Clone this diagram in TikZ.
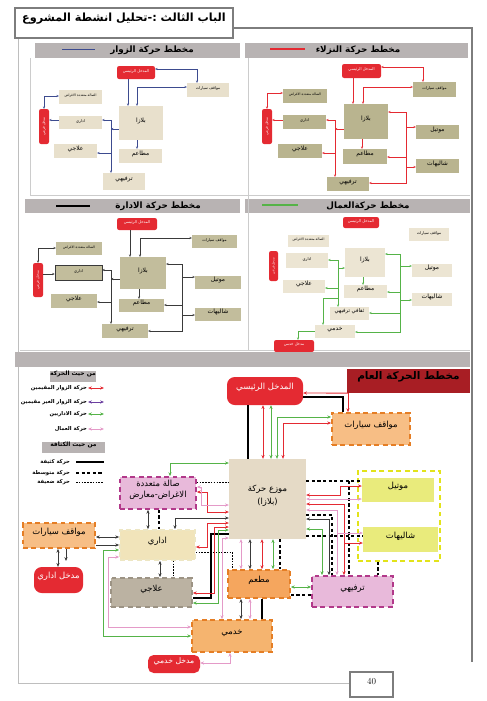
\documentclass[tikz,border=0pt]{standalone}
\usepackage{fontspec}
\usepackage{xcolor}
\usepackage{tikz}
\usetikzlibrary{arrows.meta,fit}
\newfontfamily\arabicfont[Script=Arabic]{DejaVu Sans}
\TeXXeTstate=1
\newcommand{\arb}[1]{{\arabicfont\beginR #1\endR}}

\definecolor{zred}{HTML}{E42A32}
\definecolor{zgreen}{HTML}{55B348}
\definecolor{zpink}{HTML}{E49AC8}
\definecolor{zdark}{HTML}{3A3A3A}
\definecolor{zpurple}{HTML}{6B3FA0}
\definecolor{zblue}{HTML}{3D4B8F}
\definecolor{orfill}{HTML}{F7BE85}
\definecolor{orline}{HTML}{E57E25}
\definecolor{restfill}{HTML}{F5A65E}
\definecolor{servfill}{HTML}{F5B46F}
\definecolor{pinkfill}{HTML}{E8B9DA}
\definecolor{magline}{HTML}{B2398A}
\definecolor{yelfill}{HTML}{E9EB7C}
\definecolor{yelline}{HTML}{E2E31A}
\definecolor{admfill}{HTML}{F1E4BA}
\definecolor{admline}{HTML}{EDE6C3}
\definecolor{clinfill}{HTML}{BBB2A2}
\definecolor{clinline}{HTML}{9C9384}
\definecolor{plazafill}{HTML}{E5DAC6}
\definecolor{subA}{HTML}{E8E0CC}
\definecolor{subB}{HTML}{B9B48F}
\definecolor{subC}{HTML}{C2BD9C}
\definecolor{subD}{HTML}{ECE5D3}
\definecolor{hdr}{HTML}{B8B3B3}
\definecolor{framegray}{HTML}{7D7D7D}
\definecolor{titlered}{HTML}{A81E24}

\tikzset{
  sbox/.style={fill=#1, inner sep=0pt, font=\fontsize{5.5}{6}\selectfont},
  sent/.style={fill=zred, text=white, rounded corners=3pt, inner sep=0pt, font=\fontsize{5.5}{6}\selectfont},
  big/.style={font=\fontsize{8.5}{9}\selectfont},
  sflow/.style={draw=#1, line width=0.7pt, >={Stealth[length=3.5pt,width=3pt]}},
  hdrtext/.style={font=\bfseries\fontsize{12.5}{14}\selectfont},
  mbox/.style 2 args={fill=#1, draw=#2, line width=2.4pt, dash pattern=on 7pt off 5pt, inner sep=0pt, font=\fontsize{12}{16}\selectfont},
  ment/.style={fill=zred, text=white, rounded corners=11pt, inner sep=0pt, font=\fontsize{12}{14}\selectfont},
  mflow/.style={draw=#1, line width=1.2pt},
  heavy/.style={draw=black, line width=2.2pt},
  medium/.style={draw=black, line width=2pt, dash pattern=on 4.5pt off 3.5pt},
  weak/.style={draw=black, line width=0.6pt, dash pattern=on 2.2pt off 1.8pt},
  legtext/.style={anchor=east, inner sep=0pt, font=\bfseries\fontsize{7.5}{8}\selectfont},
  leghdr/.style={fill=hdr, inner sep=0pt, font=\bfseries\fontsize{8.5}{10}\selectfont}
}

\begin{document}
\begin{tikzpicture}[x=0.05cm, y=-0.05cm, >={Stealth[length=5.5pt,width=4.5pt]}]
\useasboundingbox (0,0) rectangle (486,701);

% page frame
\draw[framegray, line width=2.5pt] (233,28) -- (472,28) -- (472,662);
\draw[framegray!50, line width=0.8pt] (18,38) -- (18,683) -- (350,683);
\node[draw=framegray, line width=4pt, fill=white, inner sep=0pt, fit={(15,8) (233,38)}, font=\bfseries\fontsize{16}{18}\selectfont] (title) {\arb{الباب الثالث :-تحليل انشطة المشروع}};

% panel headers
\fill[hdr] (35,43) rectangle (240,58);
\fill[hdr] (245,43) rectangle (468,58);
\fill[hdr] (25,199) rectangle (240,213);
\fill[hdr] (245,199) rectangle (470,213);
\draw[gray!40, line width=0.6pt] (30,58) -- (30,195) -- (470,195);
\draw[gray!40, line width=0.6pt] (248,58) -- (248,350);
\draw[gray!40, line width=0.6pt] (20,350) -- (470,350);
\node[hdrtext] (hv) at (152,50) {\arb{مخطط  حركة الزوار}};
\node[hdrtext] (hg) at (358,50) {\arb{مخطط حركة النزلاء}};
\node[hdrtext] (ha) at (158,206) {\arb{مخطط حركة الادارة}};
\node[hdrtext] (hw) at (368,206) {\arb{مخطط حركةالعمال}};
\draw[zblue, line width=1.2pt] (62,49) -- (95,49);
\draw[zred, line width=1.5pt] (270,49) -- (305,49);
\draw[black, line width=1.5pt] (56,206) -- (90,206);
\draw[zgreen, line width=2pt] (262,205) -- (298,205);

% visitors
\node[sent, fit={(117,66) (155,79)}] (vEnt) {\arb{المدخل الرئيسي}};
\node[sbox=subA, fit={(187,83) (229,97)}] (vPark) {\arb{مواقف سيارات}};
\node[sbox=subA, fit={(59,90) (102,104)}, font=\fontsize{4.8}{5}\selectfont] (vHall) {\arb{الصالة متعددة الاغراض}};
\node[sbox=subA, big, fit={(119,106) (163,140)}] (vPlaza) {\arb{بلازا}};
\node[sbox=subA, fit={(59,116) (102,129)}] (vAdm) {\arb{اداري}};
\node[sent, fit={(39,109) (49,144)}] (vSide) {};
\node[rotate=90, text=white, inner sep=0pt, font=\fontsize{5}{5}\selectfont] (vSideL) at (vSide) {\arb{مدخل فرعي}};
\node[sbox=subA, big, fit={(54,144) (97,158)}] (vClin) {\arb{علاجي}};
\node[sbox=subA, big, fit={(119,149) (162,163)}] (vRest) {\arb{مطاعم}};
\node[sbox=subA, big, fit={(103,173) (145,190)}] (vFun) {\arb{ترفيهي}};
\draw[sflow=zblue, ->] (vEnt.south-|128,0) -- (vPlaza.north-|128,0);
\draw[sflow=zblue, <->] (vPlaza.north-|137,0) -- (137,87) -- (vPark.west|-0,87);
\draw[sflow=zblue, <->] (vEnt.east|-0,69) -- (197,69) -- (vPark.north-|197,0);
\draw[sflow=zblue, <->] (vHall.west|-0,96) -- (44,96) -- (vSide.north-|44,0);
\draw[sflow=zblue, ->] (vAdm.west|-0,120) -- (vSide.east|-0,120);
\draw[sflow=zblue, <->] (vAdm.east|-0,120) -- (111,120) -- (vFun.north-|111,0);
\draw[sflow=zblue, ->] (111,153) -- (vClin.east|-0,153);
\draw[sflow=zblue, <-] (111,129) -- (vPlaza.west|-0,129);
\draw[sflow=zblue, ->] (vPlaza.south-|137,0) -- (vRest.north-|137,0);

% guests
\node[sent, fit={(342,64) (381,78)}] (gEnt) {\arb{المدخل الرئيسي}};
\node[sbox=subB, fit={(413,82) (456,97)}] (gPark) {\arb{مواقف سيارات}};
\node[sbox=subB, fit={(283,89) (327,103)}, font=\fontsize{4.8}{5}\selectfont] (gHall) {\arb{الصالة متعددة الاغراض}};
\node[sbox=subB, big, fit={(344,104) (388,139)}] (gPlaza) {\arb{بلازا}};
\node[sbox=subB, fit={(283,115) (326,129)}] (gAdm) {\arb{اداري}};
\node[sent, fit={(262,109) (272,144)}] (gSide) {};
\node[rotate=90, text=white, inner sep=0pt, font=\fontsize{5}{5}\selectfont] (gSideL) at (gSide) {\arb{مدخل فرعي}};
\node[sbox=subB, big, fit={(416,125) (459,139)}] (gMotel) {\arb{موتيل}};
\node[sbox=subB, big, fit={(278,144) (322,158)}] (gClin) {\arb{علاجي}};
\node[sbox=subB, big, fit={(343,149) (387,164)}] (gRest) {\arb{مطاعم}};
\node[sbox=subB, big, fit={(416,159) (459,173)}] (gChal) {\arb{شاليهات}};
\node[sbox=subB, big, fit={(327,177) (369,191)}] (gFun) {\arb{ترفيهي}};
\draw[sflow=zred, ->] (gEnt.south-|353,0) -- (gPlaza.north-|353,0);
\draw[sflow=zred, <->] (gPlaza.north-|363,0) -- (363,87) -- (gPark.west|-0,87);
\draw[sflow=zred, <->] (gEnt.east|-0,67) -- (423,67) -- (gPark.north-|423,0);
\draw[sflow=zred, <->] (gHall.west|-0,93) -- (267,93) -- (gSide.north-|267,0);
\draw[sflow=zred, ->] (gAdm.west|-0,120) -- (gSide.east|-0,120);
\draw[sflow=zred, <->] (gAdm.east|-0,120) -- (335,120) -- (gFun.north-|335,0);
\draw[sflow=zred, ->] (335,153) -- (gClin.east|-0,153);
\draw[sflow=zred, <-] (335,129) -- (gPlaza.west|-0,129);
\draw[sflow=zred, ->] (gPlaza.south-|362,0) -- (gRest.north-|362,0);
\draw[sflow=zred, <->] (gPlaza.east|-0,112) -- (406,112) -- (406,183) -- (gFun.east|-0,183);
\draw[sflow=zred, ->] (406,157) -- (gRest.east|-0,157);
\draw[sflow=zred, ->] (406,127) -- (gMotel.west|-0,127);
\draw[sflow=zred, ->] (406,167) -- (gChal.west|-0,167);

% administration
\node[sent, fit={(117,218) (157,230)}] (aEnt) {\arb{المدخل الرئيسي}};
\node[sbox=subC, fit={(192,235) (237,248)}] (aPark) {\arb{مواقف سيارات}};
\node[sbox=subC, fit={(56,242) (102,255)}, font=\fontsize{4.8}{5}\selectfont] (aHall) {\arb{الصالة متعددة الاغراض}};
\node[sbox=subC, big, fit={(120,257) (166,289)}] (aPlaza) {\arb{بلازا}};
\node[sbox=subC, draw=zdark, line width=0.8pt, fit={(55,265) (102,280)}] (aAdm) {\arb{اداري}};
\node[sent, fit={(33,263) (43,297)}] (aSide) {};
\node[rotate=90, text=white, inner sep=0pt, font=\fontsize{5}{5}\selectfont] (aSideL) at (aSide) {\arb{مدخل فرعي}};
\node[sbox=subC, big, fit={(195,276) (241,289)}] (aMotel) {\arb{موتيل}};
\node[sbox=subC, big, fit={(51,294) (97,308)}] (aClin) {\arb{علاجي}};
\node[sbox=subC, big, fit={(119,299) (164,312)}] (aRest) {\arb{مطاعم}};
\node[sbox=subC, big, fit={(195,308) (241,321)}] (aChal) {\arb{شاليهات}};
\node[sbox=subC, big, fit={(102,324) (148,338)}] (aFun) {\arb{ترفيهي}};
\draw[sflow=zdark, ->] (aEnt.south-|130,0) -- (aPlaza.north-|130,0);
\draw[sflow=zdark, <->] (aPlaza.north-|140,0) -- (140,238) -- (aPark.west|-0,238);
\draw[sflow=zdark, <->] (aHall.west|-0,248) -- (38,248) -- (aSide.north-|38,0);
\draw[sflow=zdark, ->] (aSide.east|-0,274) -- (aAdm.west|-0,274);
\draw[sflow=zdark, <->] (aAdm.east|-0,270) -- (111,270) -- (aFun.north-|111,0);
\draw[sflow=zdark, ->] (111,302) -- (aClin.east|-0,302);
\draw[sflow=zdark, <-] (111,279) -- (aPlaza.west|-0,279);
\draw[sflow=zdark, ->] (aPlaza.south-|139,0) -- (aRest.north-|139,0);
\draw[sflow=zdark, <->] (aPlaza.east|-0,264) -- (182,264) -- (182,331) -- (aFun.east|-0,331);
\draw[sflow=zdark, ->] (182,305) -- (aRest.east|-0,305);
\draw[sflow=zdark, ->] (182,277) -- (aMotel.west|-0,277);
\draw[sflow=zdark, ->] (182,315) -- (aChal.west|-0,315);

% workers
\node[sent, fit={(343,217) (379,228)}] (wEnt) {\arb{المدخل الرئيسي}};
\node[sbox=subD, fit={(409,228) (449,241)}] (wPark) {\arb{مواقف سيارات}};
\node[sbox=subD, fit={(288,235) (329,247)}, font=\fontsize{4.8}{5}\selectfont] (wHall) {\arb{الصالة متعددة الاغراض}};
\node[sbox=subD, big, fit={(345,248) (385,277)}] (wPlaza) {\arb{بلازا}};
\node[sbox=subD, fit={(286,253) (328,268)}] (wAdm) {\arb{اداري}};
\node[sent, fit={(269,251) (278,281)}] (wSide) {};
\node[rotate=90, text=white, inner sep=0pt, font=\fontsize{4.5}{5}\selectfont] (wSideL) at (wSide) {\arb{مدخل فرعي}};
\node[sbox=subD, big, fit={(412,264) (452,277)}] (wMotel) {\arb{موتيل}};
\node[sbox=subD, big, fit={(283,280) (325,293)}] (wClin) {\arb{علاجي}};
\node[sbox=subD, big, fit={(344,285) (387,298)}] (wRest) {\arb{مطاعم}};
\node[sbox=subD, big, fit={(412,293) (452,306)}] (wChal) {\arb{شاليهات}};
\node[sbox=subD, big, fit={(330,307) (369,320)}, font=\fontsize{7.5}{8}\selectfont] (wFun) {\arb{ثقافي ترفيهي}};
\node[sbox=subD, big, fit={(315,325) (355,338)}] (wServ) {\arb{خدمي}};
\node[sent, fit={(274,340) (314,352)}] (wEntS) {\arb{مدخل خدمي}};
\draw[sflow=zgreen, <->] (wAdm.east|-0,260) -- (338,260) -- (wFun.north-|338,0);
\draw[sflow=zgreen, <-] (wPlaza.west|-0,268) -- (338,268);
\draw[sflow=zgreen, <-] (wClin.east|-0,288) -- (338,288);
\draw[sflow=zgreen, ->] (338,298) -- (323,298) -- (wServ.north-|323,0);
\draw[sflow=zgreen, ->] (wPlaza.south-|363,0) -- (wRest.north-|363,0);
\draw[sflow=zgreen, <->] (wPlaza.east|-0,254) -- (400,254) -- (400,332) -- (wServ.east|-0,332);
\draw[sflow=zgreen, ->] (400,266) -- (wMotel.west|-0,266);
\draw[sflow=zgreen, ->] (400,292) -- (wRest.east|-0,292);
\draw[sflow=zgreen, ->] (400,300) -- (wChal.west|-0,300);
\draw[sflow=zgreen, ->] (400,313) -- (wFun.east|-0,313);
\draw[sflow=zgreen, ->] (wServ.west|-0,331) -- (298,331) -- (wEntS.north-|298,0);

% general movement
\fill[hdr] (15,352) rectangle (470,367);
\node[fill=titlered, inner sep=0pt, fit={(347,369) (470,393)}, font=\bfseries\fontsize{15}{17}\selectfont] (gtitle) {\arb{مخطط الحركة العام}};

% legend
\node[leghdr, fit={(50,371) (96,382)}] (lgA) {\arb{من حيث الحركة}};
\node[legtext] (lg1) at (87,388) {\arb{حركة الزوار المقيمين}};
\node[legtext] (lg2) at (87,402) {\arb{حركة الزوار الغير مقيمين}};
\node[legtext] (lg3) at (87,414) {\arb{حركة الاداريين}};
\node[legtext] (lg4) at (87,429) {\arb{حركة العمال}};
\draw[mflow=zred, <->] (88,388) -- (104,388);
\draw[mflow=zpurple, <->] (88,402) -- (104,402);
\draw[mflow=zgreen, <->] (88,414) -- (104,414);
\draw[mflow=zpink, <->] (88,429) -- (104,429);
\node[leghdr, fit={(42,442) (105,453)}] (lgB) {\arb{من حيث الكثافة}};
\node[legtext] (lg5) at (70,462) {\arb{حركة كثيفة}};
\node[legtext] (lg6) at (70,473) {\arb{حركة متوسطة}};
\node[legtext] (lg7) at (70,482) {\arb{حركة ضعيفة}};
\draw[heavy] (76,462) -- (104,462);
\draw[medium] (76,473) -- (104,473);
\draw[weak] (76,482) -- (104,482);

% main nodes
\node[ment, fit={(227,377) (303,405)}] (entM) {\arb{المدخل الرئيسي}};
\node[mbox={orfill}{orline}, fit={(332,413) (410,445)}] (parkT) {\arb{مواقف سيارات}};
\node[fill=plazafill, inner sep=0pt, fit={(229,459) (306,539)}, align=center, font=\fontsize{12}{18}\selectfont] (plaza) {\arb{موزع حركة}\\\arb{(بلازا)}};
\node[mbox={pinkfill}{magline}, fit={(120,477) (196,509)}, align=center] (hall) {\arb{صالة متعددة}\\\arb{الاغراض-معارض}};
\node[draw=yelline, line width=2.4pt, dash pattern=on 7pt off 5pt, fit={(358,471) (440,561)}, inner sep=0pt] (resid) {};
\node[fill=yelfill, inner sep=0pt, fit={(362,478) (434,502)}, font=\fontsize{12}{14}\selectfont] (motel) {\arb{موتيل}};
\node[fill=yelfill, inner sep=0pt, fit={(363,527) (438,552)}, font=\fontsize{12}{14}\selectfont] (chalet) {\arb{شاليهات}};
\node[mbox={orfill}{orline}, fit={(23,523) (95,548)}] (parkL) {\arb{مواقف سيارات}};
\node[ment, fit={(34,567) (83,593)}] (entA) {\arb{مدخل اداري}};
\node[mbox={admfill}{admline}, fit={(120,530) (195,560)}] (admin) {\arb{اداري}};
\node[mbox={clinfill}{clinline}, fit={(111,578) (192,607)}] (clinic) {\arb{علاجي}};
\node[mbox={restfill}{orline}, fit={(228,570) (290,598)}] (rest) {\arb{مطعم}};
\node[mbox={pinkfill}{magline}, fit={(312,576) (393,607)}] (fun) {\arb{ترفيهي}};
\node[mbox={servfill}{orline}, fit={(192,620) (272,652)}] (serv) {\arb{خدمي}};
\node[ment, rounded corners=8pt, font=\fontsize{11}{12}\selectfont, fit={(148,655) (200,673)}] (entS) {\arb{مدخل خدمي}};

% heavy and medium flows
\draw[heavy] (entM.south-|248,0) -- (plaza.north-|248,0);
\draw[heavy] (entM.east|-0,397) -- (343,397) -- (parkT.north-|343,0);
\draw[heavy] (plaza.west|-0,534) -- (211,534) -- (211,598) -- (clinic.east|-0,598);
\draw[heavy] (rest.south-|262,0) -- (serv.north-|262,0);
\draw[medium] (plaza.east|-0,481) -- (motel.west|-0,481);
\draw[medium] (349,481) -- (fun.north-|349,0);
\draw[medium] (plaza.east|-0,515) -- (332,515) -- (fun.north-|332,0);
\draw[medium] (plaza.east|-0,536) -- (chalet.west|-0,536);
\draw[medium] (resid.south-|378,0) -- (fun.north-|378,0);
\draw[medium] (plaza.south-|280,0) -- (rest.north-|280,0);
\draw[medium] (rest.east|-0,595) -- (fun.west|-0,595);
\draw[medium] (hall.south-|159,0) -- (admin.north-|159,0);
\draw[weak] (hall.east|-0,482) -- (plaza.west|-0,482);
\draw[weak] (admin.south-|173,0) -- (clinic.north-|173,0);
\draw[weak] (admin.east|-0,552) -- (232,552) -- (rest.north-|232,0);

% red flows
\draw[mflow=zred, ->] (gtitle.south-|348,0) -- (entM.east|-0,393);
\draw[mflow=zred, ->] (gtitle.south-|348,0) -- (parkT.north-|348,0);
\draw[mflow=zred, <->] (entM.south-|263,0) -- (plaza.north-|263,0);
\draw[mflow=zred, <->] (plaza.north-|283,0) -- (283,423) -- (parkT.west|-0,423);
\draw[mflow=zred, <->] (hall.east|-0,492) -- (207,492) -- (207,512) -- (plaza.west|-0,512);
\draw[mflow=zred, <->] (admin.east|-0,547) -- (207,547) -- (207,523) -- (plaza.west|-0,523);
\draw[mflow=zred, <->] (plaza.west|-0,527) -- (214,527) -- (214,593) -- (clinic.east|-0,593);
\draw[mflow=zred, <->] (plaza.east|-0,495) -- (340,495) -- (340,486) -- (motel.west|-0,486);
\draw[mflow=zred, <->] (plaza.east|-0,504) -- (344,504) -- (344,543) -- (chalet.west|-0,543);
\draw[mflow=zred, ->] (344,543) -- (fun.north-|344,0);
\draw[mflow=zred, <->] (plaza.south-|262,0) -- (rest.north-|262,0);

% green flows
\draw[mflow=zgreen, <->] (entM.south-|271,0) -- (plaza.north-|271,0);
\draw[mflow=zgreen, <->] (plaza.north-|277,0) -- (277,417) -- (parkT.west|-0,417);
\draw[mflow=zgreen, <->] (hall.north-|170,0) -- (170,463) -- (plaza.west|-0,463);
\draw[mflow=zgreen, <->] (plaza.west|-0,530) -- (218,530) -- (218,603) -- (clinic.east|-0,603);
\draw[mflow=zgreen, <->] (admin.west|-0,550) -- (103,550) -- (103,636) -- (serv.west|-0,636);
\draw[mflow=zgreen, <->] (plaza.east|-0,529) -- (322,529) -- (fun.north-|322,0);
\draw[mflow=zgreen, <->] (plaza.south-|273,0) -- (rest.north-|273,0);
\draw[mflow=zgreen, <->] (rest.east|-0,587) -- (fun.west|-0,587);

% dark flows
\draw[mflow=zdark, <->] (plaza.west|-0,518) -- (175,518) -- (admin.north-|175,0);
\draw[mflow=zdark, <->] (hall.south-|148,0) -- (admin.north-|148,0);
\draw[mflow=zdark, <->] (admin.south-|160,0) -- (clinic.north-|160,0);
\draw[mflow=zdark, <->] (parkL.east|-0,537) -- (admin.west|-0,537);
\draw[mflow=zdark, ->] (parkL.east|-0,545) -- (admin.west|-0,545);
\draw[mflow=zdark, <->] (parkL.south-|58,0) -- (entA.north-|58,0);
\draw[mflow=zdark, ->] (parkL.south-|66,0) -- (66,561);
\draw[mflow=zdark, <->] (plaza.south-|250,0) -- (rest.north-|250,0);
\draw[mflow=zdark, <->] (rest.south-|241,0) -- (serv.north-|241,0);
\draw[mflow=zdark, <->] (plaza.east|-0,519) -- (329,519) -- (fun.north-|329,0);

% pink flows
\draw[mflow=zpink, <->] (hall.east|-0,487) -- (201,487) -- (201,505) -- (plaza.west|-0,505);
\draw[mflow=zpink, <->] (plaza.east|-0,499) -- (motel.west|-0,499);
\draw[mflow=zpink, <->] (plaza.east|-0,510) -- (337,510) -- (337,533) -- (chalet.west|-0,533);
\draw[mflow=zpink, ->] (337,533) -- (fun.north-|337,0);
\draw[mflow=zpink, <->] (plaza.south-|241,0) -- (rest.north-|241,0);
\draw[mflow=zpink, <->] (rest.south-|250,0) -- (serv.north-|250,0);
\draw[mflow=zpink, <->] (admin.west|-0,557) -- (108,557) -- (108,627) -- (serv.west|-0,627);
\draw[mflow=zpink, <->] (plaza.west|-0,538) -- (222,538) -- (serv.north-|222,0);
\draw[mflow=zpink, <->] (entS.east|-0,663) -- (230,663) -- (serv.south-|230,0);

% page number
\node[draw=framegray, line width=3pt, fill=white, inner sep=0pt, fit={(350,672) (393,697)}, font=\fontsize{13}{14}\selectfont] (pnum) {40};
\end{tikzpicture}
\end{document}
